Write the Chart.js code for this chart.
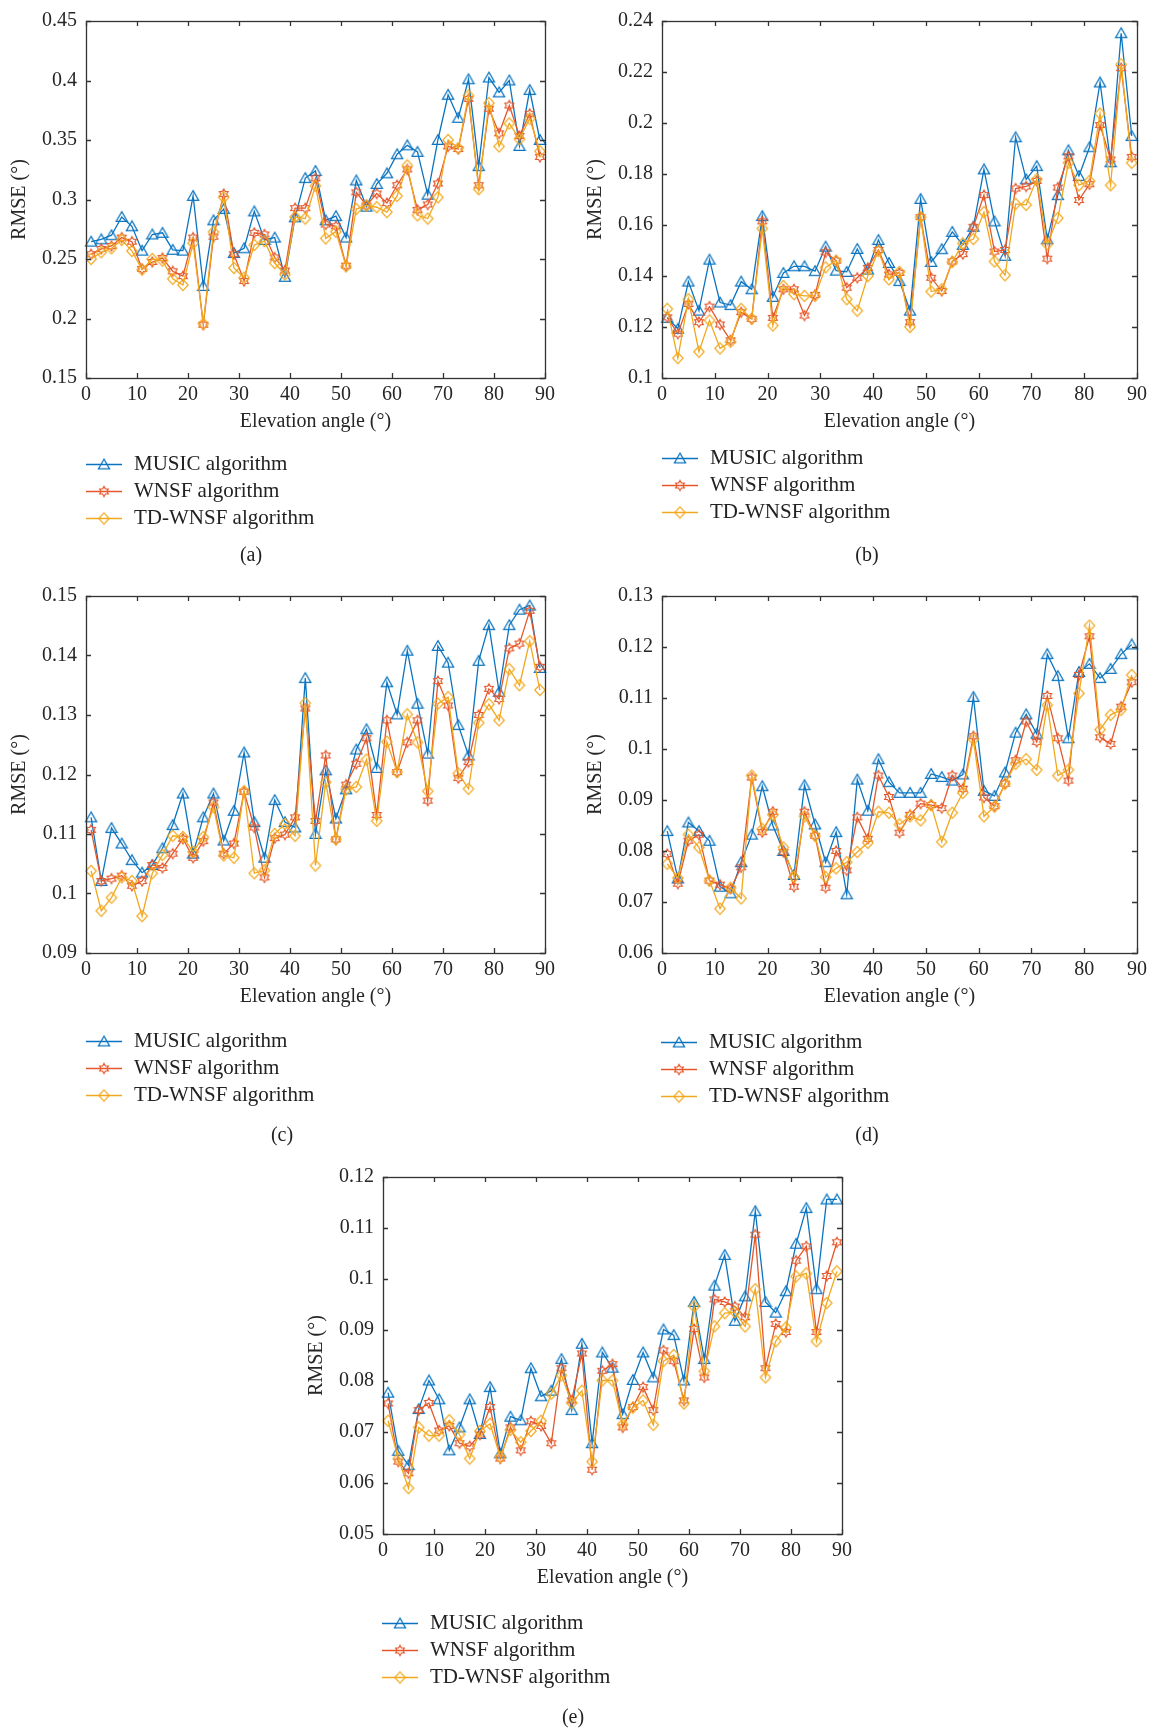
<!DOCTYPE html>
<html>
<head>
<meta charset="utf-8">
<script src="https://cdn.jsdelivr.net/npm/chart.js@4.4.0/dist/chart.umd.min.js"></script>
<style>
    body { margin: 0; background: #fff; }
    #page { position: relative; width: 1156px; height: 1728px; font-family: "Liberation Serif", "DejaVu Serif", serif; color: #222; }
    canvas.plot { position: absolute; }
    .legend { position: absolute; font-size: 21px; }
    .legend .row { display: flex; align-items: center; height: 27px; white-space: nowrap; }
    .legend canvas { display: block; }
    .caption { position: absolute; font-size: 20px; transform: translate(-50%, -50%); }
</style>
</head>
<body>
<div id="page">
    <canvas id="chartA" class="plot" width="560" height="440" style="left:0;top:0"></canvas>
    <canvas id="chartB" class="plot" width="576" height="440" style="left:576px;top:0"></canvas>
    <canvas id="chartC" class="plot" width="560" height="440" style="left:0;top:575px"></canvas>
    <canvas id="chartD" class="plot" width="576" height="440" style="left:576px;top:575px"></canvas>
    <canvas id="chartE" class="plot" width="560" height="440" style="left:297px;top:1156px"></canvas>

    <div class="legend" id="legendA" style="left:86px;top:450px"></div>
    <div class="legend" id="legendB" style="left:662px;top:444px"></div>
    <div class="legend" id="legendC" style="left:86px;top:1027px"></div>
    <div class="legend" id="legendD" style="left:661px;top:1028px"></div>
    <div class="legend" id="legendE" style="left:382px;top:1609px"></div>

    <div class="caption" style="left:251px;top:554px">(a)</div>
    <div class="caption" style="left:867px;top:554px">(b)</div>
    <div class="caption" style="left:282px;top:1134px">(c)</div>
    <div class="caption" style="left:867px;top:1134px">(d)</div>
    <div class="caption" style="left:573px;top:1716px">(e)</div>
</div>

<script>
// Angles d'élévation (abscisses communes aux 5 figures)
const angles = [1, 3, 5, 7, 9, 11, 13, 15, 17, 19, 21, 23, 25, 27, 29, 31, 33, 35, 37, 39, 41, 43, 45,
    47, 49, 51, 53, 55, 57, 59, 61, 63, 65, 67, 69, 71, 73, 75, 77, 79, 81, 83, 85, 87, 89];
const xTicks = [0, 10, 20, 30, 40, 50, 60, 70, 80, 90];

const seriesNames = ['MUSIC algorithm', 'WNSF algorithm', 'TD-WNSF algorithm'];

// (a)
const yTicksA = [0.15, 0.2, 0.25, 0.3, 0.35, 0.4, 0.45];
const musicA = [0.2646, 0.2665, 0.270, 0.2853, 0.2775, 0.257, 0.2706, 0.272, 0.2577, 0.257,
    0.303, 0.2273, 0.2825, 0.292, 0.255, 0.259, 0.290, 0.266, 0.268, 0.235,
    0.285, 0.318, 0.324, 0.2825, 0.286, 0.268, 0.316, 0.294, 0.313, 0.322,
    0.338, 0.3455, 0.340, 0.304, 0.350, 0.388, 0.3686, 0.401, 0.328, 0.4025,
    0.390, 0.400, 0.345, 0.392, 0.350];
const wnsfA = [0.254, 0.2585, 0.261, 0.268, 0.2645, 0.2417, 0.2475, 0.2508, 0.2397, 0.2356,
    0.268, 0.1948, 0.2687, 0.3046, 0.254, 0.2315, 0.272, 0.2706, 0.2513, 0.2403,
    0.2927, 0.2927, 0.3178, 0.279, 0.2775, 0.2444, 0.306, 0.295, 0.305, 0.297,
    0.312, 0.3253, 0.2913, 0.2958, 0.3134, 0.3446, 0.3424, 0.3846, 0.312, 0.3763,
    0.3556, 0.379, 0.3534, 0.372, 0.3358];
const tdA = [0.250, 0.2557, 0.259, 0.266, 0.2568, 0.2411, 0.250, 0.2486, 0.2334, 0.2282,
    0.2632, 0.1956, 0.2728, 0.3018, 0.2425, 0.2342, 0.2618, 0.265, 0.2466, 0.237,
    0.2853, 0.284, 0.3115, 0.2673, 0.273, 0.2438, 0.292, 0.295, 0.2935, 0.2894,
    0.303, 0.3286, 0.2867, 0.284, 0.3018, 0.350, 0.3432, 0.3874, 0.3087, 0.381,
    0.3446, 0.3639, 0.3507, 0.368, 0.3405];

// (b)
const yTicksB = [0.1, 0.12, 0.14, 0.16, 0.18, 0.2, 0.22, 0.24];
const musicB = [0.1236, 0.1193, 0.1378, 0.1264, 0.1464, 0.1296, 0.1286, 0.1378, 0.1348, 0.1635,
    0.1318, 0.1412, 0.1438, 0.1438, 0.1419, 0.1515, 0.1421, 0.1416, 0.1506, 0.1425,
    0.1541, 0.1451, 0.138, 0.1264, 0.1702, 0.1455, 0.1505, 0.1573, 0.1522, 0.1593,
    0.1818, 0.1614, 0.1479, 0.1944, 0.1779, 0.1831, 0.1544, 0.1717, 0.1893, 0.1792,
    0.1905, 0.2159, 0.1846, 0.2352, 0.1949];
const wnsfB = [0.1238, 0.1174, 0.129, 0.1219, 0.128, 0.121, 0.1148, 0.1258, 0.1232, 0.1614,
    0.1236, 0.1348, 0.1348, 0.1245, 0.1326, 0.1493, 0.146, 0.1354, 0.1393, 0.1432,
    0.1502, 0.1406, 0.1412, 0.1219, 0.1631, 0.1393, 0.1341, 0.1457, 0.1486, 0.1593,
    0.1717, 0.1496, 0.1502, 0.1743, 0.1751, 0.1773, 0.1468, 0.1747, 0.1869, 0.1698,
    0.176, 0.1992, 0.1857, 0.2215, 0.1867];
const tdB = [0.1271, 0.1078, 0.1309, 0.1103, 0.1226, 0.1116, 0.1142, 0.1271, 0.1232, 0.1586,
    0.1206, 0.1361, 0.1329, 0.1322, 0.1322, 0.1434, 0.146, 0.1309, 0.1264, 0.140,
    0.1498, 0.1387, 0.1416, 0.120, 0.1631, 0.1339, 0.1348, 0.1455, 0.1528, 0.1545,
    0.165, 0.1457, 0.1403, 0.1683, 0.1679, 0.1779, 0.1524, 0.1627, 0.1844, 0.1756,
    0.1773, 0.2037, 0.1756, 0.223, 0.1844];

// (c)
const yTicksC = [0.09, 0.1, 0.11, 0.12, 0.13, 0.14, 0.15];
const musicC = [0.1128, 0.1021, 0.111, 0.1084, 0.1056, 0.1035, 0.1048, 0.1076, 0.1115, 0.1168,
    0.1067, 0.1128, 0.1168, 0.1089, 0.1139, 0.1237, 0.112, 0.106, 0.1157, 0.112,
    0.1111, 0.1362, 0.110, 0.1207, 0.1126, 0.1175, 0.1242, 0.1276, 0.1211, 0.1355,
    0.1301, 0.1408, 0.1319, 0.1235, 0.1416, 0.1388, 0.1283, 0.1232, 0.1391, 0.1451,
    0.1339, 0.1451, 0.1477, 0.1484, 0.1379];
const wnsfC = [0.1107, 0.1021, 0.1025, 0.103, 0.1013, 0.1021, 0.1048, 0.1043, 0.1067, 0.1092,
    0.106, 0.1088, 0.1153, 0.1067, 0.1084, 0.1171, 0.1111, 0.1027, 0.1093, 0.1099,
    0.1128, 0.1311, 0.1122, 0.1232, 0.1091, 0.1183, 0.1218, 0.1261, 0.1132, 0.1291,
    0.1204, 0.1254, 0.1291, 0.1156, 0.1357, 0.1316, 0.1194, 0.1221, 0.130, 0.1344,
    0.1327, 0.1412, 0.142, 0.1475, 0.1381];
const tdC = [0.1038, 0.0971, 0.0993, 0.1027, 0.1021, 0.0962, 0.1034, 0.1065, 0.1097, 0.1095,
    0.107, 0.1095, 0.1145, 0.1064, 0.106, 0.1172, 0.1034, 0.1039, 0.110, 0.1117,
    0.1097, 0.132, 0.1047, 0.1187, 0.1091, 0.1175, 0.1179, 0.1225, 0.1122, 0.1255,
    0.1204, 0.1301, 0.1254, 0.1172, 0.1319, 0.133, 0.1202, 0.1176, 0.1287, 0.1318,
    0.1291, 0.1377, 0.135, 0.1424, 0.1342];

// (d)
const yTicksD = [0.06, 0.07, 0.08, 0.09, 0.1, 0.11, 0.12, 0.13];
const musicD = [0.0839, 0.0746, 0.0856, 0.0839, 0.082, 0.073, 0.0717, 0.0778, 0.0832, 0.0927,
    0.085, 0.080, 0.0753, 0.0929, 0.0852, 0.0778, 0.0837, 0.0715, 0.094, 0.0879,
    0.098, 0.0935, 0.0914, 0.0914, 0.0914, 0.0951, 0.0945, 0.0938, 0.095, 0.1102,
    0.0918, 0.0908, 0.0954, 0.1032, 0.1068, 0.103, 0.1186, 0.1143, 0.1021, 0.1151,
    0.1167, 0.1139, 0.1157, 0.1186, 0.1205];
const wnsfD = [0.0794, 0.0736, 0.082, 0.0832, 0.0742, 0.0734, 0.0726, 0.0768, 0.0944, 0.0837,
    0.0877, 0.0798, 0.073, 0.0877, 0.083, 0.0728, 0.080, 0.0762, 0.0866, 0.0824,
    0.0948, 0.0906, 0.0836, 0.0871, 0.0893, 0.089, 0.0884, 0.0948, 0.0922, 0.1025,
    0.0905, 0.0888, 0.0932, 0.0978, 0.1054, 0.1014, 0.1104, 0.1021, 0.0938, 0.1145,
    0.1221, 0.1023, 0.101, 0.1083, 0.1131];
const tdD = [0.0775, 0.0747, 0.0832, 0.0807, 0.0742, 0.0687, 0.0728, 0.0707, 0.0948, 0.0843,
    0.0871, 0.0807, 0.0749, 0.0868, 0.083, 0.0749, 0.0766, 0.0778, 0.0798, 0.0816,
    0.0877, 0.0875, 0.0852, 0.0868, 0.086, 0.089, 0.0818, 0.0875, 0.0914, 0.1019,
    0.0868, 0.0887, 0.0932, 0.0971, 0.098, 0.0959, 0.1086, 0.0948, 0.0959, 0.1109,
    0.1242, 0.1038, 0.1067, 0.1077, 0.1145];

// (e)
const yTicksE = [0.05, 0.06, 0.07, 0.08, 0.09, 0.1, 0.11, 0.12];
const musicE = [0.0777, 0.0663, 0.0635, 0.0745, 0.0801, 0.0764, 0.0664, 0.0709, 0.0764, 0.0696,
    0.0788, 0.0658, 0.073, 0.0723, 0.0825, 0.077, 0.0781, 0.0843, 0.0743, 0.0873,
    0.0678, 0.0856, 0.0826, 0.0735, 0.0802, 0.0856, 0.0807, 0.0901, 0.089, 0.0801,
    0.0955, 0.0843, 0.0987, 0.1047, 0.0918, 0.0966, 0.1133, 0.0955, 0.0934, 0.0976,
    0.1069, 0.1139, 0.098, 0.1156, 0.1156];
const wnsfE = [0.0756, 0.0642, 0.0619, 0.0743, 0.0757, 0.0703, 0.0712, 0.0678, 0.0672, 0.0695,
    0.0749, 0.0648, 0.0709, 0.0664, 0.0721, 0.0712, 0.0678, 0.0825, 0.0762, 0.0854,
    0.0626, 0.082, 0.0833, 0.0709, 0.0749, 0.0788, 0.0743, 0.086, 0.0839, 0.0762,
    0.0902, 0.0807, 0.096, 0.0955, 0.0946, 0.0925, 0.1087, 0.0825, 0.0912, 0.0896,
    0.1036, 0.1064, 0.0896, 0.1006, 0.1072];
const tdE = [0.0722, 0.0648, 0.059, 0.0709, 0.0693, 0.0693, 0.0723, 0.0695, 0.0648, 0.0702,
    0.0716, 0.0651, 0.0704, 0.068, 0.0702, 0.0722, 0.0775, 0.0811, 0.0757, 0.0781,
    0.0642, 0.0801, 0.0801, 0.0715, 0.0748, 0.0762, 0.0714, 0.0839, 0.0851, 0.0756,
    0.0946, 0.0819, 0.0907, 0.0933, 0.0935, 0.0907, 0.098, 0.0807, 0.0878, 0.0905,
    0.1005, 0.1011, 0.0878, 0.0953, 0.1015];

const colors = ['#0A74C0', '#E5572A', '#F2A81D'];
const FONT = '"Liberation Serif", "DejaVu Serif", serif';

// Marqueurs ouverts façon MATLAB (triangle, hexagramme, losange)
function makeMarker(shape, color) {
    const c = document.createElement('canvas');
    c.width = 14;
    c.height = 14;
    const g = c.getContext('2d');
    g.strokeStyle = color;
    g.lineWidth = 1.2;
    g.beginPath();
    if (shape === 'triangle') {
        g.moveTo(7, 1.6);
        g.lineTo(12.6, 11.4);
        g.lineTo(1.4, 11.4);
    } else if (shape === 'hexagram') {
        for (let i = 0; i < 12; i++) {
            const r = i % 2 === 0 ? 5 : 2.9;
            const ang = -Math.PI / 2 + i * Math.PI / 6;
            const px = 7 + r * Math.cos(ang), py = 7 + r * Math.sin(ang);
            if (i === 0) g.moveTo(px, py); else g.lineTo(px, py);
        }
    } else {
        g.moveTo(7, 1.3);
        g.lineTo(12.2, 7);
        g.lineTo(7, 12.7);
        g.lineTo(1.8, 7);
    }
    g.closePath();
    g.stroke();
    return c;
}

const markers = [
    makeMarker('triangle', colors[0]),
    makeMarker('hexagram', colors[1]),
    makeMarker('diamond', colors[2])
];

// Cadre complet + graduations vers l'intérieur
const boxPlugin = {
    id: 'matlabBox',
    afterDraw(chart) {
        const { ctx, chartArea: a, scales: { x, y } } = chart;
        const tl = 5;
        ctx.save();
        ctx.strokeStyle = '#333';
        ctx.lineWidth = 1.3;
        ctx.beginPath();
        x.ticks.forEach(t => {
            const px = Math.round(x.getPixelForValue(t.value)) + 0.5;
            ctx.moveTo(px, a.bottom); ctx.lineTo(px, a.bottom - tl);
            ctx.moveTo(px, a.top); ctx.lineTo(px, a.top + tl);
        });
        y.ticks.forEach(t => {
            const py = Math.round(y.getPixelForValue(t.value)) + 0.5;
            ctx.moveTo(a.left, py); ctx.lineTo(a.left + tl, py);
            ctx.moveTo(a.right, py); ctx.lineTo(a.right - tl, py);
        });
        ctx.stroke();
        ctx.strokeRect(Math.round(a.left) + 0.5, Math.round(a.top) + 0.5,
            Math.round(a.right - a.left), Math.round(a.bottom - a.top));
        ctx.restore();
    }
};

function buildChart(canvasId, yTicks, series, padRight) {
    const ctx = document.getElementById(canvasId).getContext('2d');
    return new Chart(ctx, {
        type: 'line',
        data: {
            datasets: series.map((vals, k) => ({
                label: seriesNames[k],
                data: angles.map((a, i) => ({ x: a, y: vals[i] })),
                borderColor: colors[k],
                backgroundColor: colors[k],
                borderWidth: 1.3,
                pointStyle: markers[k],
                pointRadius: 5,
                tension: 0,
                fill: false,
                clip: 10,
                order: 3 - k
            }))
        },
        options: {
            responsive: false,
            animation: false,
            events: [],
            layout: { padding: { left: 0, top: 16, right: padRight, bottom: 0 } },
            plugins: { legend: { display: false }, tooltip: { enabled: false } },
            scales: {
                x: {
                    type: 'linear',
                    min: 0,
                    max: 90,
                    afterBuildTicks: s => { s.ticks = xTicks.map(v => ({ value: v })); },
                    afterFit: s => { s.height = 62; },
                    grid: { display: false, drawTicks: false },
                    border: { display: false },
                    ticks: { padding: 5, color: '#262626', font: { family: FONT, size: 20 }, callback: v => String(v) },
                    title: { display: true, text: 'Elevation angle (°)', color: '#262626',
                        font: { family: FONT, size: 20 }, padding: { top: 0, bottom: 6 } }
                },
                y: {
                    type: 'linear',
                    min: yTicks[0],
                    max: yTicks[yTicks.length - 1],
                    afterBuildTicks: s => { s.ticks = yTicks.map(v => ({ value: v })); },
                    afterFit: s => { s.width = 86; },
                    grid: { display: false, drawTicks: false },
                    border: { display: false },
                    ticks: { padding: 9, color: '#262626', font: { family: FONT, size: 20 }, callback: v => String(v) },
                    title: { display: true, text: 'RMSE (°)', color: '#262626',
                        font: { family: FONT, size: 20 }, padding: { top: 8, bottom: 0 } }
                }
            }
        },
        plugins: [boxPlugin]
    });
}

// Légende verticale sous chaque figure
function buildLegend(id) {
    const box = document.getElementById(id);
    seriesNames.forEach((name, k) => {
        const row = document.createElement('div');
        row.className = 'row';
        const icon = document.createElement('canvas');
        icon.width = 36;
        icon.height = 20;
        const g = icon.getContext('2d');
        g.strokeStyle = colors[k];
        g.lineWidth = 1.3;
        g.beginPath();
        g.moveTo(0, 10.5);
        g.lineTo(36, 10.5);
        g.stroke();
        g.drawImage(markers[k], 11, 3.5);
        const label = document.createElement('span');
        label.textContent = name;
        label.style.marginLeft = '12px';
        row.appendChild(icon);
        row.appendChild(label);
        box.appendChild(row);
    });
}

function drawAll() {
    Chart.defaults.font.family = FONT;
    buildChart('chartA', yTicksA, [musicA, wnsfA, tdA], 12);
    buildChart('chartB', yTicksB, [musicB, wnsfB, tdB], 13);
    buildChart('chartC', yTicksC, [musicC, wnsfC, tdC], 13);
    buildChart('chartD', yTicksD, [musicD, wnsfD, tdD], 12);
    buildChart('chartE', yTicksE, [musicE, wnsfE, tdE], 14);
    ['legendA', 'legendB', 'legendC', 'legendD', 'legendE'].forEach(buildLegend);
}

// S'assurer que la police serif est prête avant de dessiner sur les canvas
if (document.fonts && document.fonts.load) {
    document.fonts.load('20px "Liberation Serif"').then(drawAll, drawAll);
} else {
    drawAll();
}
</script>
</body>
</html>
